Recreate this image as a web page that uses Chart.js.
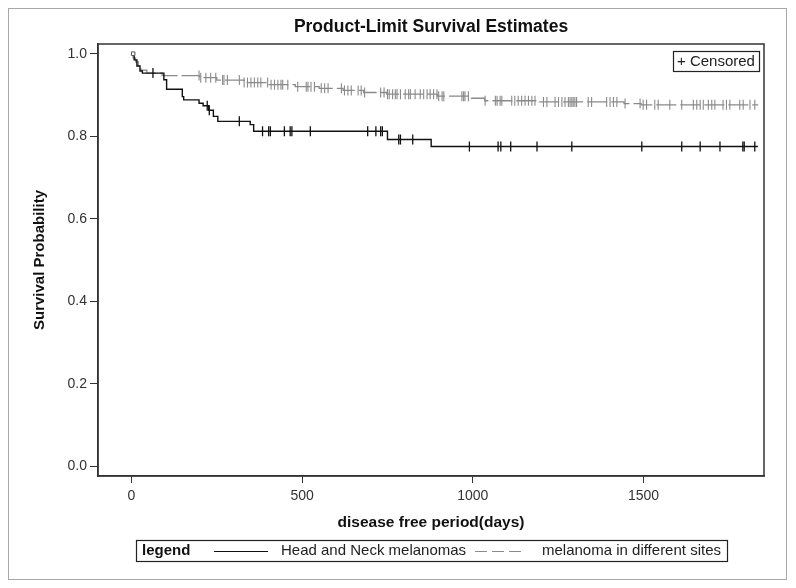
<!DOCTYPE html>
<html>
<head>
<meta charset="utf-8">
<script src="https://cdn.jsdelivr.net/npm/chart.js@4/dist/chart.umd.min.js"></script>
<style>
html,body{margin:0;padding:0;background:#fff;}
#wrap{width:796px;height:588px;}
</style>
</head>
<body>
<div id="wrap"><canvas id="c" width="796" height="588"></canvas></div>
<script>
// ---- data ----
const chartTitle = 'Product-Limit Survival Estimates';
const xAxisTitle = 'disease free period(days)';
const yAxisTitle = 'Survival Probability';
const legendTitle = 'legend';
const censorLabel = '+ Censored';
const seriesNames = ['Head and Neck melanomas', 'melanoma in different sites'];
const xTicks = [0, 500, 1000, 1500];
const yTicks = [0.0, 0.2, 0.4, 0.6, 0.8, 1.0];

// Head and Neck melanomas: Kaplan-Meier steps (day, survival after the drop)
const hnDays = [0, 8, 16, 25, 32, 95, 103, 149, 153, 198, 210, 226, 240, 253, 348, 358, 750, 878, 1835];
const hnSurv = [1.0, 0.985, 0.97, 0.958, 0.953, 0.937, 0.914, 0.896, 0.888, 0.88, 0.874, 0.863, 0.848, 0.836, 0.828, 0.812, 0.792, 0.775, 0.775];
const hnCensored = [63, 222, 228, 316, 384, 402, 407, 448, 465, 470, 524, 692, 716, 730, 735, 783, 788, 824, 990, 1074, 1082, 1111, 1188, 1290, 1495, 1612, 1666, 1724, 1791, 1795, 1826];

// melanoma in different sites
const otDays = [0, 5, 12, 20, 28, 45, 90, 200, 250, 330, 400, 480, 550, 620, 680, 748, 896, 996, 1035, 1195, 1443, 1493, 1836];
const otSurv = [1.0, 0.99, 0.98, 0.97, 0.96, 0.953, 0.947, 0.942, 0.936, 0.93, 0.925, 0.92, 0.916, 0.911, 0.906, 0.902, 0.897, 0.892, 0.886, 0.883, 0.879, 0.876, 0.876];
const otCensored = [198, 203, 218, 232, 247, 267, 271, 281, 316, 330, 340, 350, 360, 370, 379, 399, 409, 419, 429, 438, 443, 458, 487, 512, 517, 526, 536, 556, 566, 576, 615, 624, 634, 644, 664, 673, 683, 730, 740, 750,
  755, 765, 773, 778, 788, 802, 812, 817, 831, 846, 856, 866, 875, 885, 895, 900, 910, 915, 968, 973, 977, 987, 1036, 1066, 1071, 1080, 1085,
  1114, 1123, 1133, 1143, 1153, 1163, 1173, 1182, 1207, 1217, 1241, 1251, 1261, 1270, 1280, 1285, 1290, 1294, 1299, 1304, 1338, 1348,
  1392, 1402, 1412, 1422, 1446, 1490, 1499, 1509, 1533, 1543, 1577, 1612, 1646, 1656, 1666, 1675, 1690, 1700, 1709, 1733, 1743, 1753, 1782, 1792, 1812, 1826];

// ---- helpers ----
function stepPoints(days, surv) { return days.map((d, i) => ({x: d, y: surv[i]})); }
function survAt(days, surv, t) {
  let v = surv[0];
  for (let i = 0; i < days.length; i++) { if (days[i] <= t) v = surv[i]; else break; }
  return v;
}
function censorPoints(days, surv, cens) { return cens.map(t => ({x: t, y: survAt(days, surv, t)})); }

const BLACK = '#111111';
const GRAY = '#8a8a8a';
const FONT = "'Liberation Sans', Arial, sans-serif";

const decor = {
  id: 'decor',
  beforeDraw(chart) {
    const ctx = chart.ctx;
    ctx.save();
    ctx.fillStyle = '#fff';
    ctx.fillRect(0, 0, chart.width, chart.height);
    ctx.restore();
  },
  afterDraw(chart) {
    const ctx = chart.ctx;
    const a = chart.chartArea;
    ctx.save();
    // outer figure border
    ctx.strokeStyle = '#a8a8a8';
    ctx.lineWidth = 1;
    ctx.strokeRect(8.5, 8.5, 778, 571);
    // plot frame
    ctx.strokeStyle = '#333';
    ctx.lineWidth = 1.5;
    ctx.strokeRect(a.left, a.top, a.right - a.left, a.bottom - a.top);
    // title
    ctx.fillStyle = '#111';
    ctx.font = 'bold 17.5px ' + FONT;
    ctx.textAlign = 'center';
    ctx.textBaseline = 'middle';
    ctx.fillText(chartTitle, (a.left + a.right) / 2, 27);
    // censored box
    ctx.lineWidth = 1.2;
    ctx.strokeStyle = '#222';
    ctx.strokeRect(673.5, 51.5, 86, 20);
    ctx.font = '15px ' + FONT;
    ctx.textAlign = 'left';
    ctx.fillStyle = '#222';
    ctx.fillText(censorLabel, 677, 61.5);
    // bottom legend
    ctx.strokeRect(136.5, 540.5, 591, 21);
    ctx.font = 'bold 15px ' + FONT;
    ctx.fillStyle = '#111';
    ctx.fillText(legendTitle, 142, 551);
    ctx.beginPath();
    ctx.strokeStyle = BLACK; ctx.lineWidth = 1;
    ctx.moveTo(214, 551.5); ctx.lineTo(268, 551.5); ctx.stroke();
    ctx.font = '15px ' + FONT;
    ctx.fillStyle = '#222';
    ctx.fillText(seriesNames[0], 281, 551);
    ctx.beginPath();
    ctx.strokeStyle = GRAY; ctx.setLineDash([12, 5]);
    ctx.moveTo(475, 551.5); ctx.lineTo(526, 551.5); ctx.stroke();
    ctx.setLineDash([]);
    ctx.fillText(seriesNames[1], 542, 551);
    ctx.restore();
  }
};

new Chart(document.getElementById('c'), {
  type: 'line',
  data: {
    datasets: [
      { label: seriesNames[1], data: stepPoints(otDays, otSurv), stepped: 'before', borderColor: GRAY, borderWidth: 1.3, borderDash: [20, 4], pointRadius: 0, fill: false, order: 3 },
      { label: seriesNames[1] + ' censored', type: 'scatter', data: censorPoints(otDays, otSurv, otCensored), pointStyle: 'line', rotation: 90, radius: 5, borderColor: GRAY, borderWidth: 1.1, order: 2 },
      { label: seriesNames[0], data: stepPoints(hnDays, hnSurv), stepped: 'before', borderColor: BLACK, borderWidth: 1.4, pointRadius: 0, fill: false, order: 1 },
      { label: seriesNames[0] + ' censored', type: 'scatter', data: censorPoints(hnDays, hnSurv, hnCensored), pointStyle: 'line', rotation: 90, radius: 5, borderColor: BLACK, borderWidth: 1.3, order: 0 },
      { label: 'start', type: 'scatter', data: [{x: 5, y: 1.0}], pointStyle: 'rect', radius: 2.5, borderColor: '#555', backgroundColor: '#fff', borderWidth: 1, order: 0 }
    ]
  },
  options: {
    responsive: false,
    animation: false,
    devicePixelRatio: 1,
    layout: { padding: { top: 44, right: 32, left: 0, bottom: 0 } },
    plugins: { legend: { display: false }, title: { display: false }, tooltip: { enabled: false } },
    scales: {
      x: {
        type: 'linear', min: -98, max: 1853,
        afterFit(s) { s.height = 112; },
        afterBuildTicks(s) { s.ticks = xTicks.map(v => ({value: v})); },
        grid: { drawOnChartArea: false, drawTicks: true, tickLength: 7, color: '#333', lineWidth: 1 },
        border: { display: true, color: '#333', width: 1.5 },
        ticks: { color: '#333', font: { family: FONT, size: 14 }, padding: 5, callback: v => String(v), maxRotation: 0 },
        title: { display: true, text: xAxisTitle, color: '#111', font: { family: FONT, size: 15.5, weight: 'bold' }, padding: { top: 0, bottom: 56 } }
      },
      y: {
        type: 'linear', min: -0.0235, max: 1.0235,
        afterFit(s) { s.width = 98; },
        afterBuildTicks(s) { s.ticks = yTicks.map(v => ({value: v})); },
        grid: { drawOnChartArea: false, drawTicks: true, tickLength: 8, color: '#333', lineWidth: 1 },
        border: { display: true, color: '#333', width: 1.5 },
        ticks: { color: '#333', font: { family: FONT, size: 14 }, padding: 3, callback: v => v.toFixed(1) },
        title: { display: true, text: yAxisTitle, color: '#111', font: { family: FONT, size: 15, weight: 'bold' }, padding: { top: 31, bottom: 0 } }
      }
    }
  },
  plugins: [decor]
});
</script>
</body>
</html>
